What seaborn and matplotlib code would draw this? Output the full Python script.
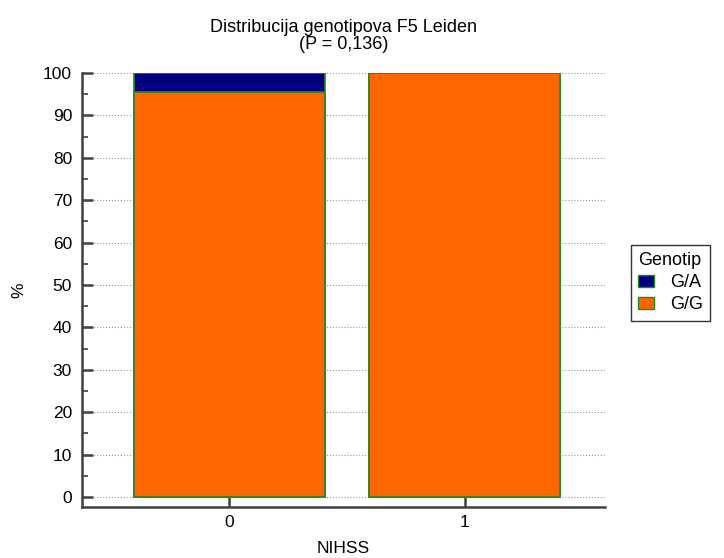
import matplotlib
matplotlib.use('Agg')
import matplotlib.pyplot as plt
from matplotlib.patches import Patch
from matplotlib.ticker import MultipleLocator
import seaborn as sns
import pandas as pd

# data
nihss = ['0', '1']
genotypes = ['G/A', 'G/G']
pct_ga = [4.5, 0.0]
pct_gg = [95.5, 100.0]

sns.set_style('white')
plt.rcParams['font.family'] = ['Liberation Sans', 'DejaVu Sans']
plt.rcParams['text.color'] = 'black'
plt.rcParams['axes.labelcolor'] = 'black'

df = pd.DataFrame({'NIHSS': nihss, 'G/A': pct_ga, 'G/G': pct_gg})
df['total'] = df['G/A'] + df['G/G']

fig = plt.figure(figsize=(7.24, 5.58), dpi=100)
ax = fig.add_axes([0.113, 0.0914, 0.723, 0.7778])

navy = '#000080'
orange = '#ff6600'
edge = '#1f8a1f'

# stacked bars: total first (G/A colour), then G/G over it
sns.barplot(data=df, x='NIHSS', y='total', color=navy, edgecolor=edge,
            linewidth=1.2, width=0.81, saturation=1, ax=ax)
sns.barplot(data=df, x='NIHSS', y='G/G', color=orange, edgecolor=edge,
            linewidth=1.2, width=0.81, saturation=1, ax=ax)

ax.set_xlim(-0.628, 1.598)
ax.set_ylim(-2.36, 100)
ax.set_yticks(range(0, 101, 10))
ax.yaxis.set_minor_locator(MultipleLocator(5))
ax.grid(axis='y', which='major', linestyle=':', color='#999999', linewidth=0.8)
ax.set_axisbelow(True)

for s in ['top', 'right']:
    ax.spines[s].set_visible(False)
for s in ['left', 'bottom']:
    ax.spines[s].set_color('#404040')
    ax.spines[s].set_linewidth(1.8)

ax.tick_params(axis='y', which='major', left=True, direction='in', length=8, width=1.8,
               color='#404040', labelcolor='black', labelsize=12.5, pad=7)
ax.tick_params(axis='y', which='minor', left=True, direction='in', length=4, width=1.2,
               color='#404040')
ax.tick_params(axis='x', bottom=True, direction='in', length=8, width=1.8, color='#404040',
               labelcolor='black', labelsize=12.5, pad=6)

ax.set_xlabel('NIHSS', fontsize=12.5, labelpad=8)
ax.set_ylabel('%', fontsize=12.5, labelpad=12)
ax.set_title('Distribucija genotipova F5 Leiden\n(P = 0,136)', fontsize=13, pad=17,
             linespacing=1.0, color='black')

handles = [Patch(facecolor=navy, edgecolor=edge, label=genotypes[0]),
           Patch(facecolor=orange, edgecolor=edge, label=genotypes[1])]
leg = ax.legend(handles=handles, title='Genotip', loc='upper left',
                bbox_to_anchor=(631 / 724, 1 - 245 / 558), bbox_transform=fig.transFigure,
                frameon=True, fancybox=False, edgecolor='black', fontsize=13, title_fontsize=13,
                handlelength=0.85, handleheight=0.72, handletextpad=0.9,
                borderpad=0.4, labelspacing=0.28, alignment='left', borderaxespad=0)
leg.get_frame().set_linewidth(1.0)

plt.savefig('out.png', dpi=100)
